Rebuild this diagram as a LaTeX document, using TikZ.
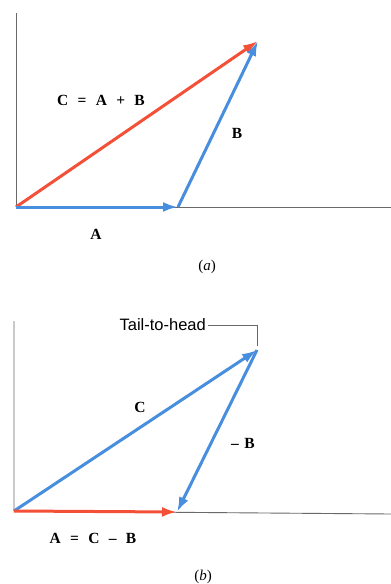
\documentclass[tikz,border=0pt]{standalone}
\usepackage{fontspec}
\setmainfont{Liberation Serif}
\newfontfamily\calloutfont{Liberation Sans}
\usetikzlibrary{arrows.meta}
\definecolor{vecblue}{RGB}{72,142,222}
\definecolor{vecred}{RGB}{244,80,56}
\definecolor{axisgray}{RGB}{105,105,105}
\newcommand{\opgap}{\hspace{0.6em}}
\begin{document}
\begin{tikzpicture}[x=1pt, y=-1pt,
  axis/.style={draw=axisgray, line width=0.9pt},
  vec/.style={line width=3pt, -{Latex[length=15pt,width=10pt]}},
  lbl/.style={font=\fontsize{15.5}{17}\selectfont\bfseries, inner sep=0pt},
  partlbl/.style={font=\fontsize{15}{17}\selectfont, inner sep=0pt}]
\useasboundingbox (0,0) rectangle (391,584);
% (a) sum
\coordinate (oa) at (16,207);
\coordinate (ya) at (16,13);
\coordinate (xa) at (391,207);
\coordinate (pa) at (178,207);
\coordinate (qa) at (258,41);
\draw[axis] (ya) -- (oa) -- (xa);
\draw[vec, vecred] (oa) -- (qa);
\draw[vec, vecblue] (oa) -- (pa);
\draw[vec, vecblue] (pa) -- (qa);
\node[lbl] (suma) at (101,100) {C\opgap=\opgap A\opgap+\opgap B};
\node[lbl] (ba) at (237,133) {B};
\node[lbl] (aa) at (96,234) {A};
\node[partlbl] (capa) at (207,267) {(\textit{a})};
% (b) difference
\coordinate (ob) at (14,511);
\coordinate (yb) at (14,321);
\coordinate (xb) at (391,514);
\coordinate (pb) at (177,512);
\coordinate (qb) at (257,350);
\draw[axis] (yb) -- (ob) -- (xb);
\draw[vec, vecblue] (ob) -- (qb);
\draw[vec, vecblue] (qb) -- (pb);
\draw[vec, vecred] (ob) -- (pb);
\node[font=\calloutfont\fontsize{16.5}{18}\selectfont, inner sep=0pt, anchor=east] (tail) at (206,325) {Tail-to-head};
\draw[axisgray, line width=0.8pt] ([xshift=2pt]tail.east) -- ++(49,0) |- ++(0,21);
\node[lbl] (cb) at (140,407) {C};
\node[lbl] (nb) at (243,443) {\textendash\hspace{0.35em}B};
\node[lbl] (ab) at (93,538) {A\opgap=\opgap C\opgap\textendash\opgap B};
\node[partlbl] (capb) at (203,577) {(\textit{b})};
\end{tikzpicture}
\end{document}
